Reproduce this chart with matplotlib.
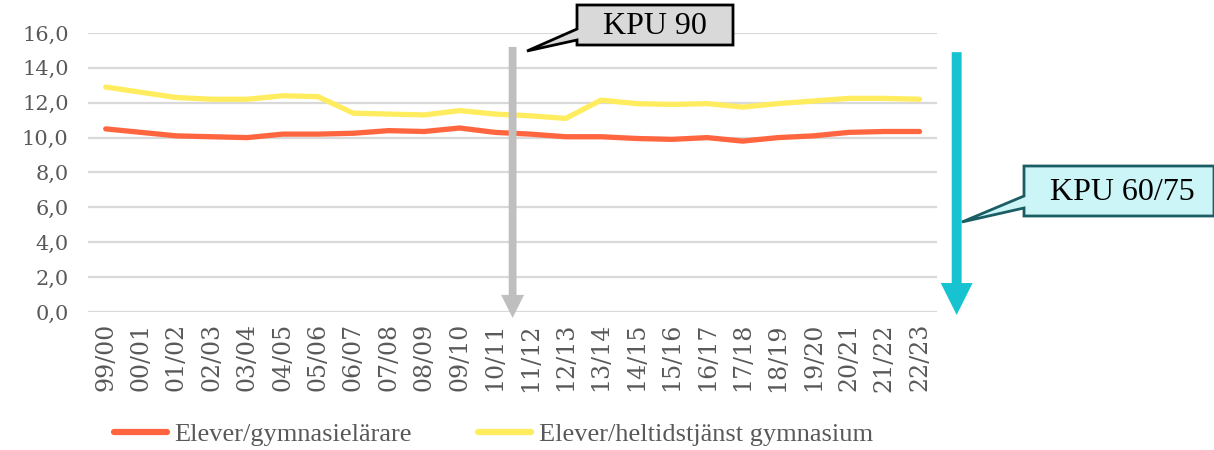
import numpy as np
import matplotlib
matplotlib.use('Agg')
import matplotlib.pyplot as plt
import matplotlib.transforms as mtransforms
from matplotlib.patches import Polygon, FancyArrow

# läsår
years = ['99/00', '00/01', '01/02', '02/03', '03/04', '04/05', '05/06', '06/07',
         '07/08', '08/09', '09/10', '10/11', '11/12', '12/13', '13/14', '14/15',
         '15/16', '16/17', '17/18', '18/19', '19/20', '20/21', '21/22', '22/23']
elever_larare = [10.5, 10.3, 10.1, 10.05, 10.0, 10.2, 10.2, 10.25, 10.4, 10.35, 10.55, 10.3,
                 10.2, 10.05, 10.05, 9.95, 9.9, 10.0, 9.8, 10.0, 10.1, 10.3, 10.35, 10.35]
elever_heltid = [12.9, 12.6, 12.3, 12.2, 12.2, 12.4, 12.35, 11.4, 11.35, 11.3, 11.55, 11.35,
                 11.25, 11.1, 12.15, 11.95, 11.9, 11.95, 11.75, 11.95, 12.1, 12.25, 12.25, 12.2]
yticks = np.arange(0, 17, 2)

RED = '#FF6640'
YEL = '#FFED5F'
GRAY_TXT = '#595959'

fig = plt.figure(figsize=(12.14, 4.5), dpi=100)
ax = fig.add_axes([0.0725, 0.3067, 0.6995, 0.62])

x = np.arange(len(years))
ax.plot(x, elever_larare, color=RED, lw=3.8, solid_capstyle='round', label='Elever/gymnasielärare', zorder=3)
ax.plot(x, elever_heltid, color=YEL, lw=3.8, solid_capstyle='round', label='Elever/heltidstjänst gymnasium', zorder=3)

ax.set_xlim(-0.5, len(years) - 0.5)
ax.set_ylim(0, 16)
ax.set_yticks(yticks)
ax.set_yticklabels([f'{v:.1f}'.replace('.', ',') for v in yticks])
ax.set_xticks(x)
ax.set_xticklabels(years, rotation=90)
ax.grid(axis='y', color='#D9D9D9', lw=1.6)
ax.set_axisbelow(True)
for s in ax.spines.values():
    s.set_visible(False)
ax.tick_params(length=0, colors=GRAY_TXT)
ax.tick_params(axis='y', pad=14, labelsize=15)
ax.tick_params(axis='x', pad=8, labelsize=17)
for lab in ax.get_xticklabels() + ax.get_yticklabels():
    lab.set_family('DejaVu Serif')

# pilar
ax.add_patch(FancyArrow(11.5, 15.2, 0, -15.54, width=0.22, head_width=0.65, head_length=1.32,
                        length_includes_head=True, color='#BFBFBF', lw=0, clip_on=False, zorder=4))
ax.add_patch(FancyArrow(24.05, 14.9, 0, -15.07, width=0.28, head_width=0.9, head_length=1.83,
                        length_includes_head=True, color='#17C3D1', lw=0, clip_on=False, zorder=4))

# pratbubblor i pixelkoordinater
px = mtransforms.Affine2D().scale(1, -1).translate(0, 450)
fig.patches.append(Polygon([(577, 5), (733, 5), (733, 45), (577, 45), (577, 40), (527, 51), (577, 29)],
                           closed=True, fc='#D9D9D9', ec='black', lw=2, transform=px, figure=fig))
fig.text(655 / 1214, 1 - 26 / 450, 'KPU 90', ha='center', va='center', fontsize=23,
         family='Liberation Serif', color='black')
fig.patches.append(Polygon([(1024, 166), (1214, 166), (1214, 216), (1024, 216), (1024, 208), (962, 222), (1024, 196)],
                           closed=True, fc='#CCF5F8', ec='#1A5E63', lw=2, transform=px, figure=fig))
fig.text(1122 / 1214, 1 - 193 / 450, 'KPU 60/75', ha='center', va='center', fontsize=23,
         family='Liberation Serif', color='black')

leg = fig.legend(loc='center left', bbox_to_anchor=(0.083, 1 - 434 / 450), ncol=2, frameon=False,
                 handlelength=2.0, handletextpad=0.3, columnspacing=2.5, borderpad=0,
                 prop={'family': 'Liberation Serif', 'size': 19})
for t in leg.get_texts():
    t.set_color(GRAY_TXT)
for h in leg.legend_handles:
    h.set_linewidth(4.5)

fig.savefig('out.png', dpi=100)
